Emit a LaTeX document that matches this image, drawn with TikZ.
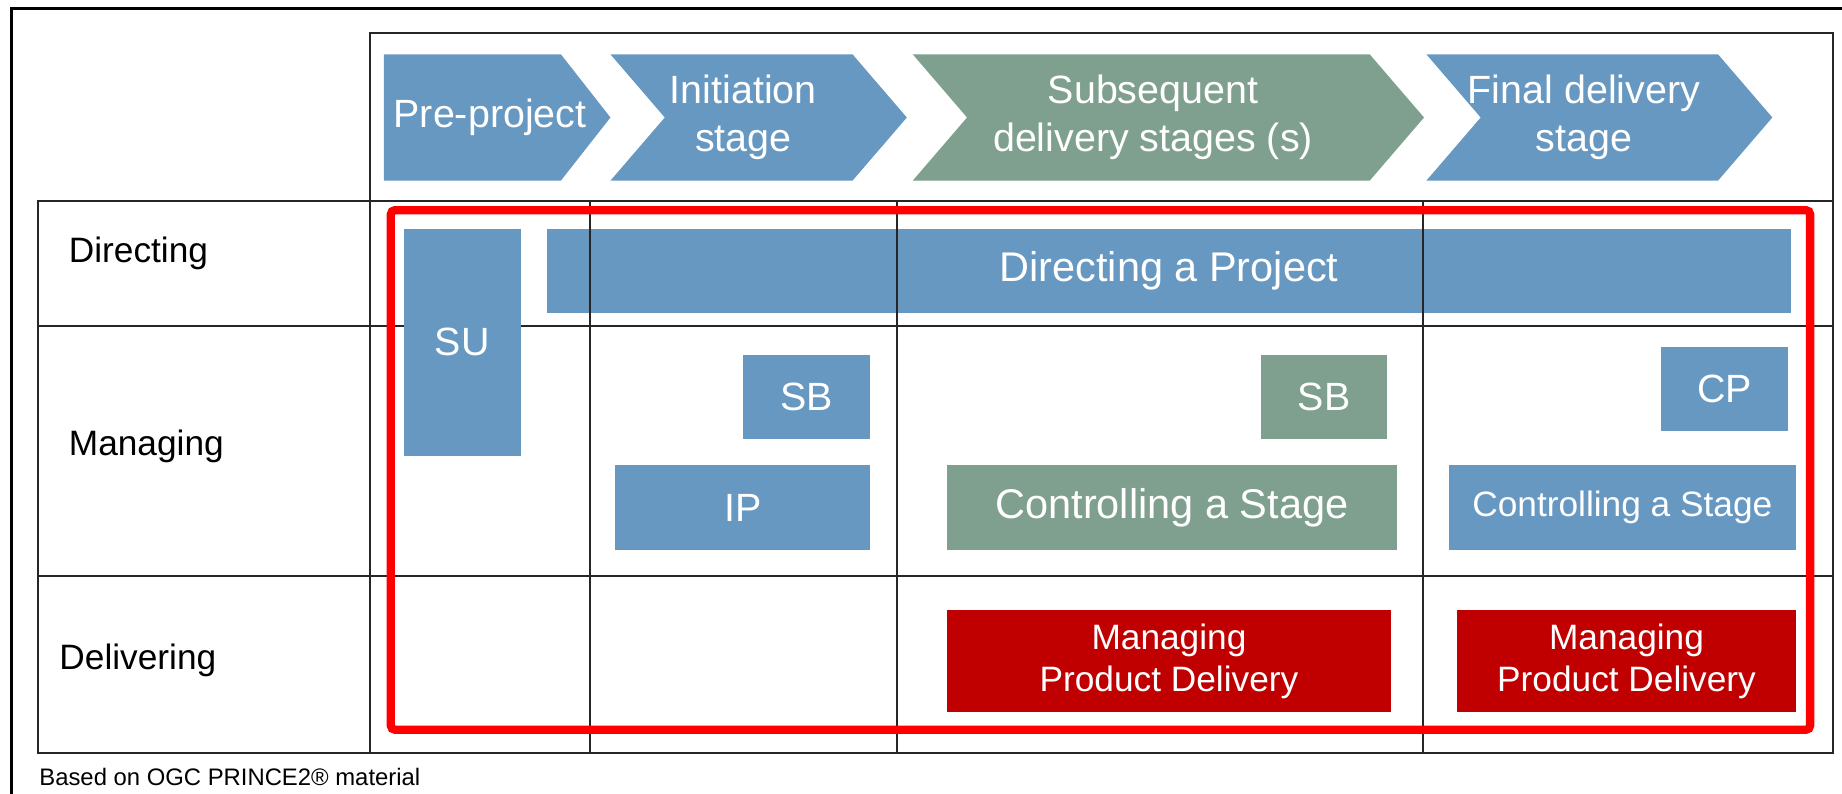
\documentclass[tikz,border=0pt]{standalone}
\usepackage{fontspec}
\setmainfont{Liberation Sans}
\definecolor{pblue}{RGB}{103,152,193}
\definecolor{pgreen}{RGB}{127,160,142}
\definecolor{pred}{RGB}{192,0,0}
\tikzset{
  grid line/.style={black!85, line width=.9pt},
  lane/.style={anchor=base west, inner sep=0, font=\fontsize{17}{20}\selectfont},
  stagetxt/.style={white, align=center, inner sep=0, font=\fontsize{19}{23}\selectfont},
  proc/.style={white, align=center, inner sep=0, font=\fontsize{19}{23}\selectfont},
}
\begin{document}
\begin{tikzpicture}[x=.02cm, y=-.02cm]
\useasboundingbox (0,0) rectangle (1560,672.4);
\draw[line width=1.4pt] (10,672.4) -- (10,7) -- (1560,7);
\draw[grid line] (313,28) rectangle (1552,170);
\draw[grid line] (32,170) rectangle (1552,638);
\foreach \y in {276,488} {
 \draw[grid line] (32,\y) -- (1552,\y);
}
\fill[pblue] (325,46) -- (475,46) -- (517,99.5) -- (475,153) -- (325,153) -- cycle;
\node[stagetxt] (pre) at (415,99.5) {Pre-project};
\foreach \l/\r/\col/\txt/\nm in {517/722/pblue/{Initiation\\stage}/ini,
  773/1160/pgreen/{Subsequent\\delivery stages (s)}/sub,
  1208/1455/pblue/{Final delivery\\stage}/fin} {
 \fill[\col] (\l,46) -- (\r,46) -- (\r+46,99.5) -- (\r,153) -- (\l,153) -- (\l+46,99.5) -- cycle;
 \node[stagetxt] (\nm) at ({(\l+\r)/2+10},99.5) {\txt};
}
\node[lane] (dir) at (58,222) {Directing};
\node[lane] (man) at (58,386) {Managing};
\node[lane] (del) at (50,567) {Delivering};
\fill[pblue] (342,194) rectangle (441,386) node[midway, proc] (su) {SU};
\fill[pblue] (463,194) rectangle (1517,265) node[midway, proc, font=\fontsize{20}{24}\selectfont] (dp) {Directing a Project};
\fill[pblue] (629,301) rectangle (737,372) node[midway, proc] (sb1) {SB};
\fill[pblue] (521,394) rectangle (737,466) node[midway, proc] (ip) {IP};
\fill[pgreen] (1068,301) rectangle (1175,372) node[midway, proc] (sb2) {SB};
\fill[pgreen] (802,394) rectangle (1183,466) node[midway, proc, font=\fontsize{20}{24}\selectfont] (cs1) {Controlling a Stage};
\fill[pblue] (1407,294) rectangle (1514,365) node[midway, proc] (cp) {CP};
\fill[pblue] (1227,394) rectangle (1521,466) node[midway, proc, font=\fontsize{17}{20}\selectfont] (cs2) {Controlling a Stage};
\fill[pred] (802,517) rectangle (1178,603) node[midway, proc, font=\fontsize{17}{20.5}\selectfont] (mpd1) {Managing\\Product Delivery};
\fill[pred] (1234,517) rectangle (1521,603) node[midway, proc, font=\fontsize{17}{20.5}\selectfont] (mpd2) {Managing\\Product Delivery};
\draw[grid line] (313,170) -- (313,638);
\foreach \x in {500,760,1205} {
 \draw[grid line] (\x,170) -- (\x,638);
}
\draw[red, line width=4pt, rounded corners=2pt] (331,178) rectangle (1533,618);
\node[anchor=base west, inner sep=0, font=\fontsize{11.5}{13}\selectfont] (src) at (33,665) {Based on OGC PRINCE2® material};
\end{tikzpicture}
\end{document}
